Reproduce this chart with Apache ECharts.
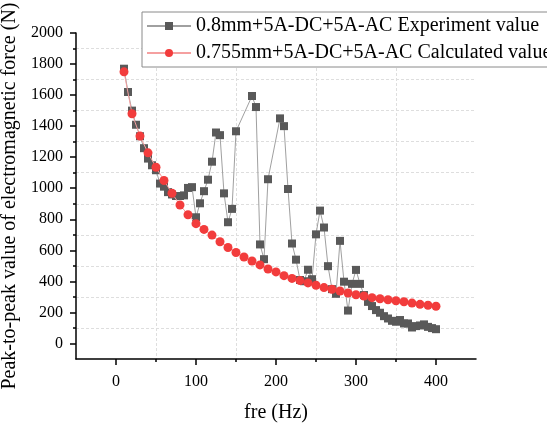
<!DOCTYPE html>
<html><head><meta charset="utf-8">
<script src="https://cdn.jsdelivr.net/npm/echarts@6/dist/echarts.min.js"></script>
<style>html,body{margin:0;padding:0;background:#fff}#c{width:547px;height:423px}</style>
</head><body><div id="c"></div><script>
const expName = '0.8mm+5A-DC+5A-AC Experiment value';
const calcName = '0.755mm+5A-DC+5A-AC Calculated value';
const expFreq = [10,15,20,25,30,35,40,45,50,55,60,65,70,75,80,85,90,95,100,105,110,115,120,125,130,135,140,145,150,170,175,180,185,190,205,210,215,220,225,230,235,240,245,250,255,260,265,270,275,280,285,290,295,300,305,310,315,320,325,330,335,340,345,350,355,360,365,370,375,380,385,390,395,400];
const expForce = [1770,1620,1500,1409,1335,1258,1191,1148,1116,1030,1010,975,960,950,950,954,1002,1007,813,903,981,1055,1171,1359,1342,967,781,867,1367,1594,1523,638,543,1058,1450,1400,995,644,540,409,401,475,414,703,856,747,498,350,320,661,398,212,384,474,384,312,268,241,215,198,176,161,146,140,151,129,129,103,112,116,123,107,99,92];
const calcFreq = [10,20,30,40,50,60,70,80,90,100,110,120,130,140,150,160,170,180,190,200,210,220,230,240,250,260,270,280,290,300,310,320,330,340,350,360,370,380,390,400];
const calcForce = [1750,1480,1336,1228,1135,1050,968,892,829,772,735,698,655,618,586,557,531,506,480,461,437,419,405,390,375,360,349,338,325,314,306,295,288,282,275,269,260,252,246,240];
const xMajorTicks = [0,100,200,300,400];
const xMinorTicks = [50,150,250,350];
const yMajorTicks = [0,200,400,600,800,1000,1200,1400,1600,1800,2000];
const yMinorTicks = [100,300,500,700,900,1100,1300,1500,1700,1900];

const FONT = 'Liberation Serif';
const chart = echarts.init(document.getElementById('c'), null, {renderer:'canvas'});
const axisLineStyle = {show:true, onZero:false, lineStyle:{color:'#000', width:1.5}};
const gridLine = {show:true, lineStyle:{color:'#dedede', type:[3,2], width:1}};
chart.setOption({
  animation:false,
  backgroundColor:'#fff',
  grid:{left:76, right:71, top:33, bottom:64, containLabel:false, outerBoundsMode:'none'},
  legend:{
    orient:'vertical', left:142, top:12,
    itemWidth:44, itemHeight:10, itemGap:7,
    padding:[4,10,4,4],
    borderColor:'#8a8a8a', borderWidth:1, backgroundColor:'#fff',
    textStyle:{fontFamily:FONT, fontSize:20, color:'#000'},
    data:[expName, calcName]
  },
  xAxis:[{
    type:'value', min:-50, max:450, position:'bottom',
    name:'fre (Hz)', nameLocation:'middle', nameGap:44,
    nameTextStyle:{fontFamily:FONT, fontSize:20, color:'#000'},
    axisLine:axisLineStyle,
    axisTick:{show:true, customValues:xMajorTicks, length:6, lineStyle:{color:'#000', width:1.5}},
    axisLabel:{customValues:xMajorTicks, margin:15, fontFamily:FONT, fontSize:16, color:'#000'},
    splitLine:{show:false}
  },{
    type:'value', min:-50, max:450, position:'bottom',
    axisLine:{show:false, onZero:false},
    axisTick:{show:true, customValues:xMinorTicks, length:3, lineStyle:{color:'#000', width:1.5}},
    axisLabel:{show:false},
    splitLine:gridLine
  }],
  yAxis:[{
    type:'value', min:-100, max:2000, position:'left',
    name:'Peak-to-peak value of electromagnetic force (N)', nameLocation:'middle', nameGap:38,
    nameTextStyle:{fontFamily:FONT, fontSize:20, color:'#000'},
    axisLine:axisLineStyle,
    axisTick:{show:true, customValues:yMajorTicks, length:6, lineStyle:{color:'#000', width:1.5}},
    axisLabel:{customValues:yMajorTicks, margin:13, fontFamily:FONT, fontSize:16, color:'#000', formatter:v=>String(v)},
    splitLine:{show:false}
  },{
    type:'value', min:-100, max:2000, position:'left',
    axisLine:{show:false, onZero:false},
    axisTick:{show:true, customValues:yMinorTicks, length:3, lineStyle:{color:'#000', width:1.5}},
    axisLabel:{show:false},
    splitLine:gridLine
  }],
  series:[{
    name:expName, type:'line', xAxisIndex:0, yAxisIndex:0,
    data:expFreq.map((f,i)=>[f, expForce[i]]),
    symbol:'rect', symbolSize:8,
    itemStyle:{color:'#595959'},
    lineStyle:{color:'#a0a0a0', width:1},
    z:2
  },{
    name:calcName, type:'line', xAxisIndex:0, yAxisIndex:0,
    data:calcFreq.map((f,i)=>[f, calcForce[i]]),
    symbol:'circle', symbolSize:9,
    itemStyle:{color:'#f23c3c'},
    lineStyle:{color:'#f5a0a0', width:1},
    z:3
  }]
});
</script></body></html>
